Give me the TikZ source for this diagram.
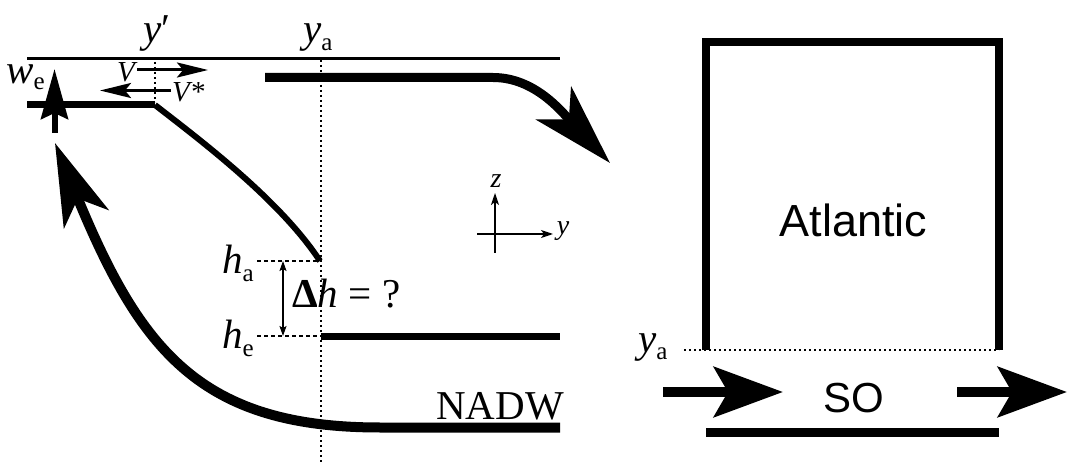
\documentclass[tikz,border=0pt]{standalone}
\usepackage{fontspec}
\setmainfont{Liberation Serif}
\newfontfamily\sansfam{Liberation Sans}
\usetikzlibrary{arrows.meta}
\newcommand\lsub[2][-8pt]{\raisebox{#1}{\fontsize{25}{25}\selectfont #2}}
\begin{document}
\begin{tikzpicture}[x=1pt,y=-1pt,
  lbl/.style={inner sep=0pt,font=\fontsize{41}{41}\selectfont},
  smalllbl/.style={inner sep=0pt,font=\fontsize{29}{29}\selectfont\itshape},
  axlbl/.style={inner sep=0pt,font=\fontsize{28}{28}\selectfont\itshape},
  sanslbl/.style={inner sep=0pt,font=\fontsize{45}{45}\selectfont\sansfam},
  thin line/.style={line width=3pt},
  dotline/.style={line width=2pt,dash pattern=on 2pt off 3pt},
  dashline/.style={line width=1.5pt,dash pattern=on 4pt off 3pt},
  bigflow/.style={line width=9pt,-{Stealth[length=82pt,width=48pt,inset=22pt]}},
  soflow/.style={line width=10pt,-{Stealth[length=69pt,width=50pt,inset=14pt]}},
  weflow/.style={line width=6pt,-{Stealth[length=50pt,width=27pt,inset=6pt]}},
  vflow/.style={line width=3pt,-{Stealth[length=31pt,width=15pt,inset=6pt]}},
  axarrow/.style={line width=1.5pt,-{Stealth[length=12pt,width=8pt,inset=3pt]}},
  dimarrow/.style={line width=1.5pt,{Stealth[length=10pt,width=7pt,inset=2pt]}-{Stealth[length=10pt,width=7pt,inset=2pt]}}
]
\useasboundingbox (0,0) rectangle (1068,462);
% ---------- coordinates ----------
\coordinate (topL) at (27,58.5);
\coordinate (topR) at (560,58.5);
\coordinate (ypT) at (155,62);
\coordinate (ypB) at (155,102);
\coordinate (yaT) at (321,60);
\coordinate (yaB) at (321,462);
\coordinate (trS) at (265,77.5);
\coordinate (trK) at (493,77.5);
\coordinate (trE) at (610,163);
\coordinate (mlS) at (27,105);
\coordinate (mlK) at (155,105);
\coordinate (haP) at (320,261);
\coordinate (heS) at (321,336);
\coordinate (heE) at (560,336);
\coordinate (haD) at (257,261);
\coordinate (heD) at (257,336);
\coordinate (dhT) at (283,261);
\coordinate (dhB) at (283,336);
\coordinate (nbS) at (560,427.5);
\coordinate (nbK) at (380,427.5);
\coordinate (nbE) at (55,143);
\coordinate (weS) at (54.5,133);
\coordinate (weE) at (54.5,69);
\coordinate (vS) at (137,70);
\coordinate (vE) at (208,70);
\coordinate (vsS) at (171,90.5);
\coordinate (vsE) at (100,90.5);
\coordinate (azB) at (495,253);
\coordinate (azT) at (495,193);
\coordinate (ayL) at (477,234);
\coordinate (ayR) at (553,234);
\coordinate (bxBL) at (706,350);
\coordinate (bxTL) at (706,42);
\coordinate (bxTR) at (999,42);
\coordinate (bxBR) at (999,350);
\coordinate (rdL) at (684,350);
\coordinate (soLs) at (663,392);
\coordinate (soLe) at (783,392);
\coordinate (soRs) at (957,392);
\coordinate (soRe) at (1067,392);
\coordinate (sbL) at (706,432.5);
\coordinate (sbR) at (999,432.5);
% ---------- lines ----------
\draw[thin line] (topL) -- (topR);
\draw[dotline] (ypT) -- (ypB);
\draw[dotline] (yaT) -- (yaB);
\draw[bigflow] (trS) -- (trK) .. controls (535,77.5) and (562,112) .. (trE);
\draw[line width=7pt] (mlS) -- (mlK);
\draw[line width=6pt] (mlK) .. controls (200,140) and (280,200) .. (haP);
\draw[line width=7pt] (heS) -- (heE);
\draw[dashline] (haD) -- (haP);
\draw[dashline] (heD) -- (heS);
\draw[dimarrow] (dhT) -- (dhB);
\draw[bigflow,line width=10pt] (nbS) -- (nbK) .. controls (200,427.5) and (140,350) .. (nbE);
\draw[weflow] (weS) -- (weE);
\draw[vflow] (vS) -- (vE);
\draw[vflow] (vsS) -- (vsE);
\draw[axarrow] (azB) -- (azT);
\draw[axarrow] (ayL) -- (ayR);
% right panel
\draw[line width=8pt,line join=miter] (bxBL) -- (bxTL) -- (bxTR) -- (bxBR);
\draw[dotline] (rdL) -- (bxBR);
\draw[soflow] (soLs) -- (soLe);
\draw[soflow] (soRs) -- (soRe);
\draw[line width=9pt] (sbL) -- (sbR);
% ---------- labels ----------
\node[lbl,anchor=base west] (lyp) at (143,43) {\textit{y}′};
\node[lbl,anchor=base west] (lya) at (303,43) {\textit{y}\lsub{a}};
\node[lbl,anchor=base west] (lwe) at (6,84) {\textit{w}\lsub[-6pt]{e}};
\node[lbl,anchor=base west] (lha) at (222,274) {\textit{h}\lsub{a}};
\node[lbl,anchor=base west] (lhe) at (222,348) {\textit{h}\lsub{e}};
\node[lbl,anchor=base west] (ldh) at (292,308) {\textbf{Δ}\textit{h} = ?};
\node[lbl,anchor=base east] (lnadw) at (564,419) {NADW};
\node[smalllbl,anchor=base west] (lv) at (117,82) {V};
\node[smalllbl,anchor=base west] (lvs) at (172,102) {V*};
\node[axlbl] (lz) at (496,181) {z};
\node[axlbl] (ly) at (563,231) {y};
\node[lbl,anchor=base west] (lyar) at (638,352) {\textit{y}\lsub{a}};
\node[sanslbl,anchor=base] (latl) at (853.5,237) {Atlantic};
\node[sanslbl,anchor=base,font=\fontsize{42}{42}\selectfont\sansfam] (lso) at (854,412) {SO};
\end{tikzpicture}
\end{document}
